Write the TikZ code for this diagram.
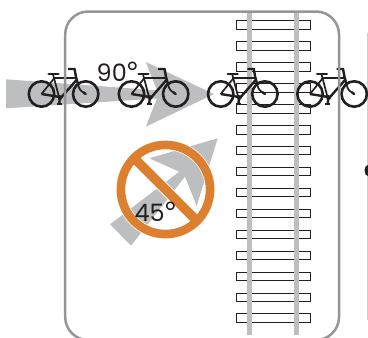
\documentclass[tikz,border=0pt]{standalone}
\usepackage{fontspec}
\setmainfont{Poppins}
\newfontfamily\degfont{Lato}
\definecolor{arrowgray}{HTML}{BCBEC0}
\definecolor{railgray}{HTML}{BCBEC0}
\definecolor{boxgray}{HTML}{939598}
\definecolor{inkblack}{HTML}{231F20}
\definecolor{signorange}{HTML}{DC7F2E}
\newcommand{\bigdeg}{{\degfont\fontsize{27}{27}\selectfont °}}
\tikzset{
  x=1bp,y=-1bp,
  wheel/.style={draw=inkblack,line width=2.6bp},
  frametube/.style={draw=inkblack,line width=1.7bp},
  fat/.style={draw=inkblack,line width=2.4bp},
  tie/.style={draw=inkblack,line width=0.7bp,fill=white},
  rail/.style={draw=none,fill=railgray},
  arrowfill/.style={draw=none,fill=arrowgray},
  deglabel/.style={text=inkblack,font=\fontsize{24}{24}\selectfont,inner sep=0pt,anchor=base west},
  bike/.pic={
    \draw[wheel] (0,0) circle (12.7);
    \draw[wheel] (44.2,0) circle (12.7);
    % rear triangle and frame
    \draw[fat] (0,0) -- (18.3,3);
    \draw[frametube] (0,0) -- (12.7,-15.7);
    \draw[frametube] (11.7,-19) -- (18.3,6);
    \draw[frametube] (11.7,-15.7) -- (34.5,-15.7);
    \draw[fat] (18.3,5) -- (35,-14);
    % fork and bars
    \draw[fat] (34,-19) -- (36.7,-9);
    \draw[frametube] (36.7,-9) .. controls (37.5,-5) and (39.5,-2.5) .. (43,-1);
    \draw[fat,line cap=round] (42,-1.6) -- (44.2,0);
    \draw[fat] (26.7,-25) -- (33,-25) -- (34.2,-19);
    % saddle
    \draw[fat,line width=2.8bp,line cap=round] (7.2,-20) -- (16.8,-20);
    % cranks and pedals
    \fill[inkblack] (18.6,3.5) circle (2.4);
    \draw[fat] (18.3,3) -- (17.8,9.5);
    \draw[fat] (15.3,9.8) -- (20.3,9.8);
  }
}
\begin{document}
\begin{tikzpicture}
\useasboundingbox (0,0) rectangle (368,338);
\clip (0,0) rectangle (368,338);
% 90 degree arrow
\fill[arrowfill] (6,79.3) -- (157,90.3) -- (145.8,62) -- (214,94) -- (145.8,126.7) -- (157,98.5) -- (6,108.3) -- cycle;
% ties
\foreach \i in {0,...,14} {
  \draw[tie] (236.3,{20.8+20.93*\i}) rectangle (310.7,{29.2+20.93*\i});
}
% rails
\fill[rail] (247.2,12.5) rectangle (252.2,334.5);
\fill[rail] (294.2,12.5) rectangle (299.2,334.5);
% neighbouring panel edge
\draw[boxgray!45,line width=1bp] (367.6,33) -- (367.6,320);
\fill[inkblack] (368,170.5) ellipse (3.5 and 5.5);
% 45 degree arrow
\fill[arrowfill] (110,224.3) -- (179.3,171.7) -- (149.3,158.3) -- (217.7,138.3) -- (196.7,206) -- (185,176.7) -- (131,245.7) -- cycle;
% prohibition sign
\draw[white,line width=10bp] (165.5,189.5) circle (44.6);
\draw[white,line width=11bp] (134,158) -- (197,221);
\draw[signorange,line width=8.6bp] (165.5,189.5) circle (44.6);
\draw[signorange,line width=9.4bp] (134,158) -- (197,221);
% labels
\node[deglabel] at (96.5,81.7) {90\bigdeg};
\node[deglabel] at (134.5,221) {45\bigdeg};
% bicycles
\pic at (41.5,94) {bike};
\pic at (131.5,94) {bike};
\pic at (220.7,94) {bike};
\pic at (310,94) {bike};
% frame
\draw[boxgray,line width=2.5bp,rounded corners=23bp] (65.2,11.5) rectangle (339,340);
\end{tikzpicture}
\end{document}
